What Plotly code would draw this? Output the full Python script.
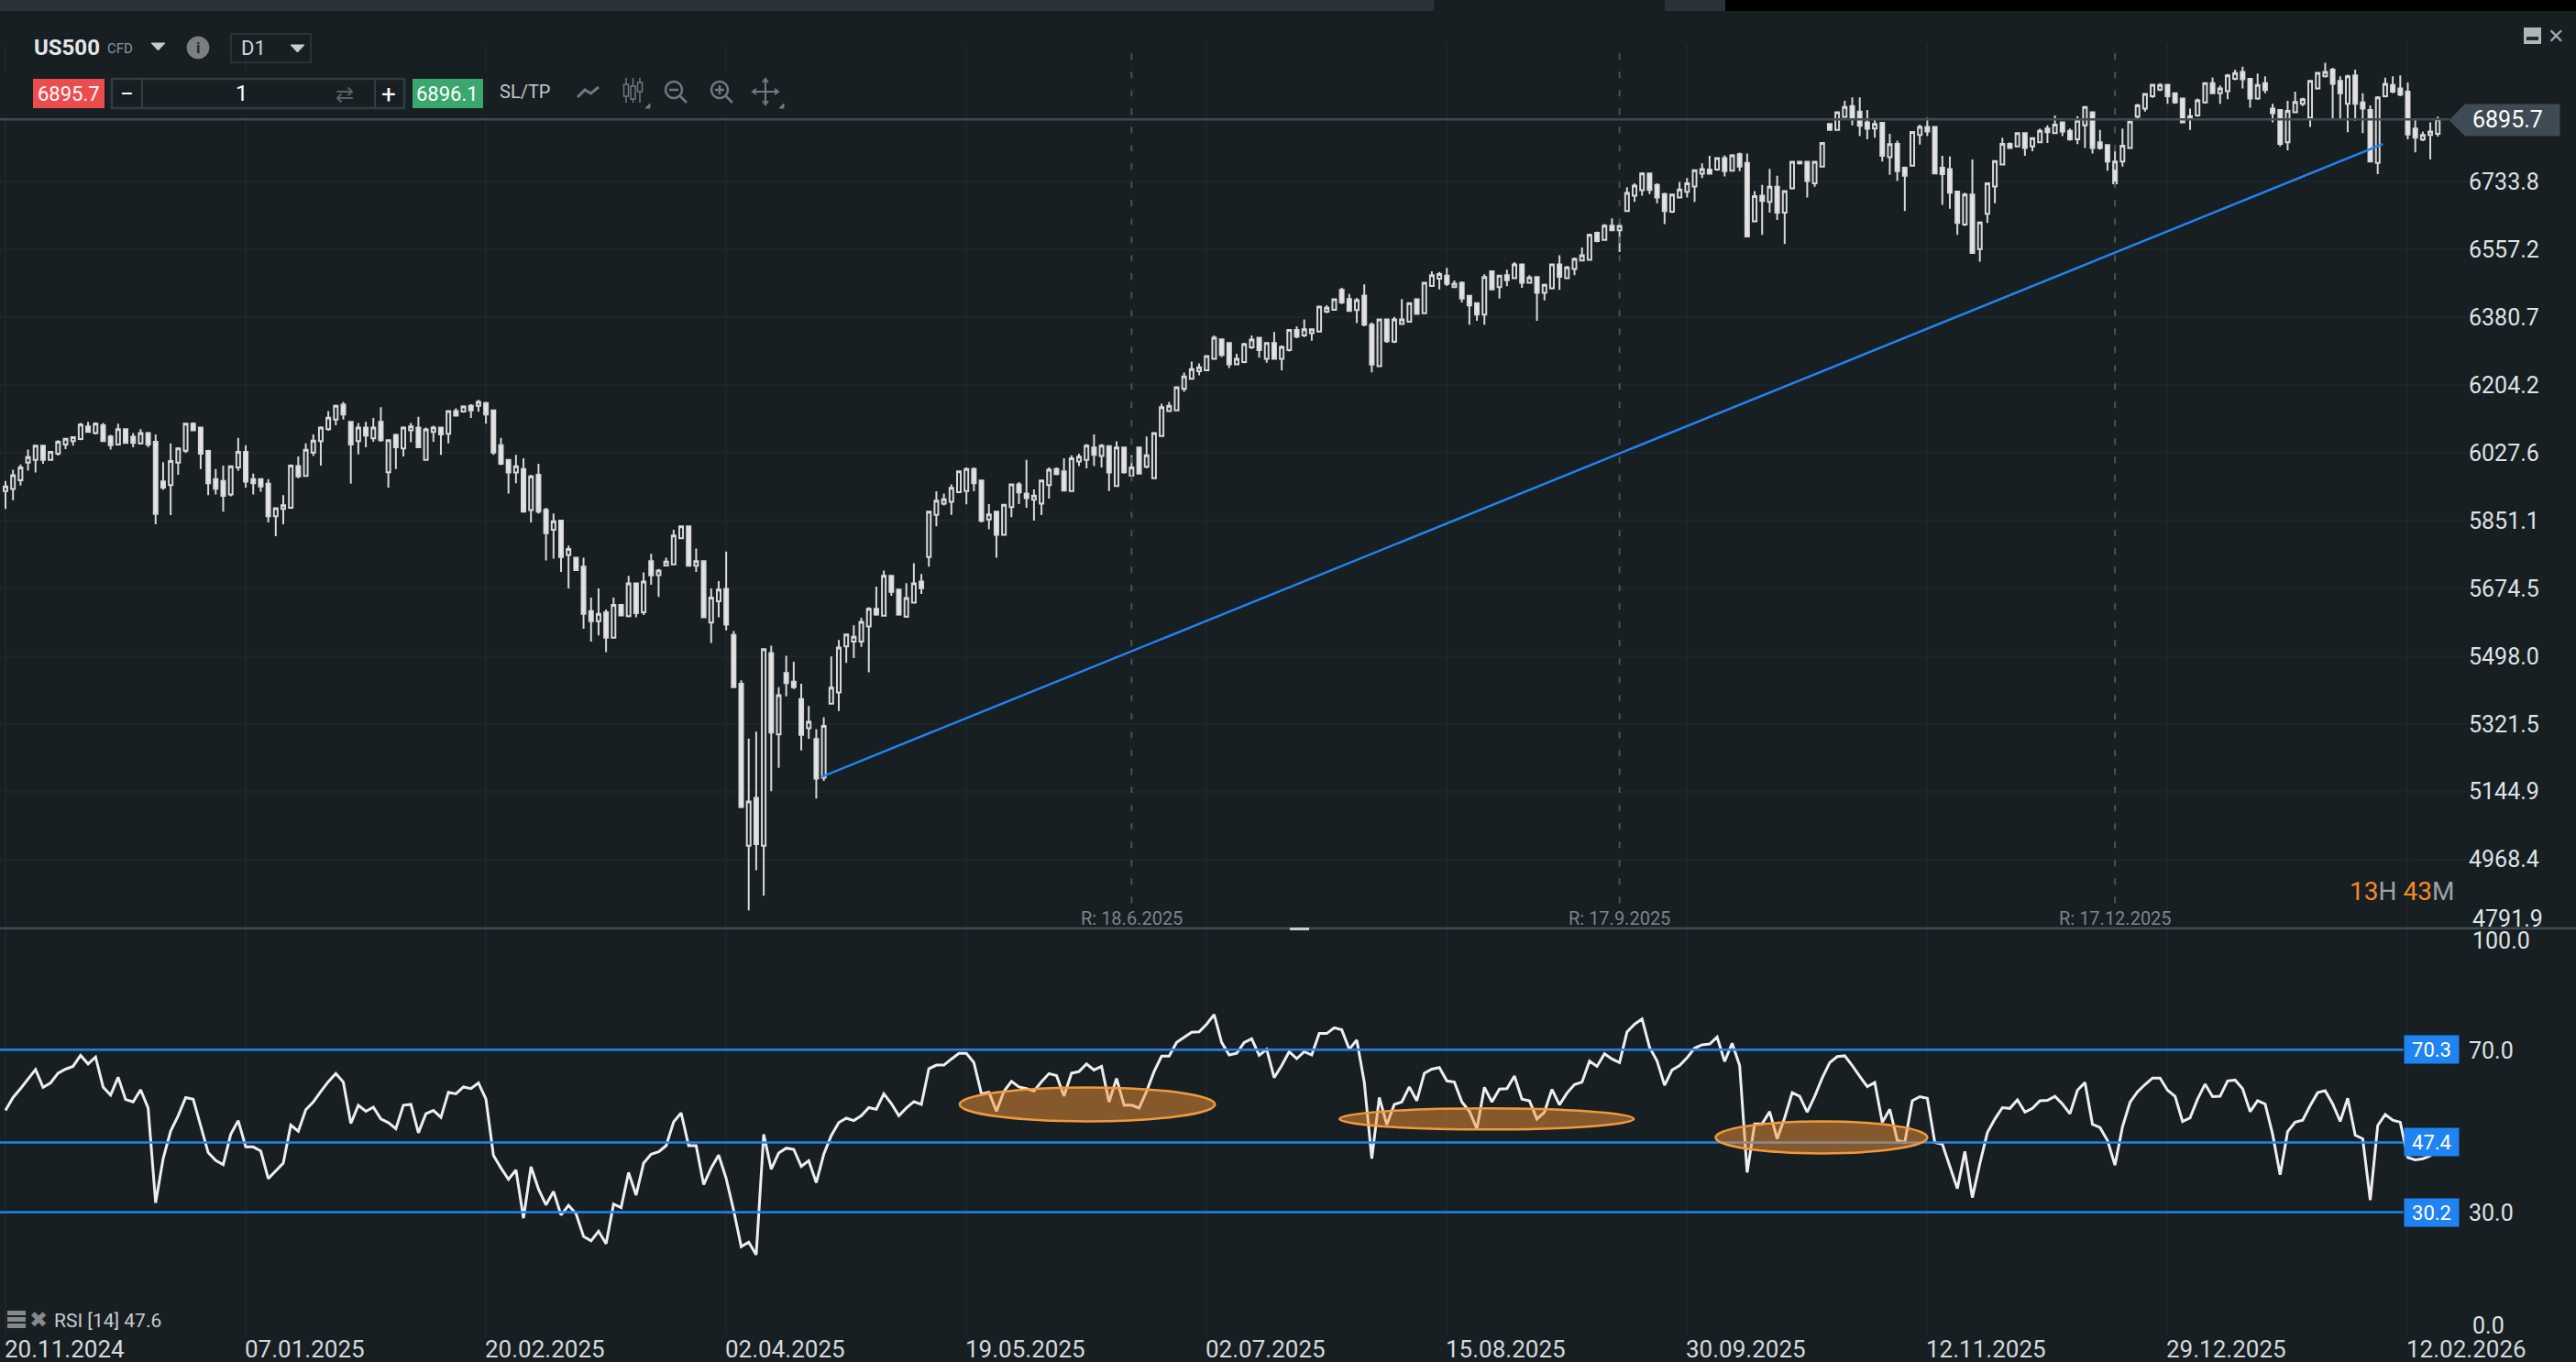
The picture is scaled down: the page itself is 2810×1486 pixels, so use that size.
import plotly.graph_objects as go
from plotly.subplots import make_subplots

WIDTH = 2810
HEIGHT = 1486

BG = "#171f23"
GRID = "#1e252a"
SEP = "#3f4b54"
TEXT = "#dfe3e5"
BLUE = "#2183f0"
ICON = "#6e7a82"

opens = [
    5928, 5933, 5956, 6002, 6009, 6046, 6009, 6025, 6049, 6058,
    6063, 6096, 6079, 6099, 6070, 6049, 6089, 6069, 6052, 6079,
    6056, 5953, 5943, 6002, 6033, 6103, 6093, 6032, 5959, 5954,
    5919, 5989, 6030, 5959, 5959, 5947, 5862, 5881, 5884, 5993,
    5967, 6028, 6058, 6089, 6114, 6153, 6108, 6058, 6093, 6065,
    6108, 5977, 6074, 6039, 6086, 6093, 6009, 6082, 6093, 6077,
    6136, 6135, 6150, 6150, 6157, 6138, 6047, 6009, 5976, 5985,
    5878, 5970, 5879, 5827, 5851, 5761, 5754, 5731, 5615, 5589,
    5612, 5546, 5631, 5602, 5687, 5612, 5745, 5709, 5734, 5737,
    5805, 5836, 5733, 5745, 5585, 5641, 5673, 5553, 5426, 5004,
    5129, 5004, 5506, 5294, 5454, 5431, 5386, 5310, 5282, 5181,
    5374, 5403, 5523, 5536, 5536, 5575, 5621, 5603, 5707, 5671,
    5601, 5637, 5692, 5756, 5866, 5895, 5900, 5925, 5928, 5985,
    5955, 5854, 5874, 5814, 5886, 5945, 5921, 5905, 5895, 5943,
    5985, 5979, 5928, 6005, 6009, 6041, 6019, 6045, 5941, 6041,
    5968, 6041, 5991, 5961, 6071, 6136, 6138, 6194, 6220, 6240,
    6242, 6272, 6323, 6313, 6258, 6264, 6302, 6327, 6272, 6313,
    6272, 6295, 6347, 6333, 6339, 6343, 6395, 6400, 6452, 6428,
    6399, 6437, 6361, 6253, 6375, 6317, 6363, 6369, 6427, 6391,
    6462, 6481, 6489, 6459, 6470, 6436, 6417, 6387, 6500, 6459,
    6490, 6482, 6518, 6470, 6485, 6444, 6456, 6518, 6482, 6506,
    6528, 6530, 6600, 6582, 6619, 6607, 6657, 6697, 6711, 6755,
    6725, 6701, 6655, 6692, 6707, 6721, 6754, 6765, 6765, 6795,
    6762, 6805, 6782, 6630, 6697, 6681, 6720, 6653, 6716, 6785,
    6785, 6729, 6773, 6884, 6868, 6902, 6930, 6916, 6888, 6872,
    6887, 6797, 6832, 6770, 6775, 6855, 6876, 6876, 6770, 6766,
    6708, 6622, 6700, 6558, 6650, 6721, 6778, 6832, 6825, 6860,
    6825, 6836, 6872, 6860, 6888, 6866, 6844, 6880, 6914, 6836,
    6829, 6786, 6786, 6821, 6903, 6924, 6956, 6973, 6986, 6964,
    6950, 6904, 6906, 6940, 6990, 6964, 6969, 7001, 7019, 7001,
    6950, 6990, 6924, 6920, 6836, 6914, 6936, 6900, 6976, 7008,
    7025, 6996, 6936, 7010, 6940, 6920, 6782, 6956, 6985, 6976,
    6968, 6872, 6843, 6855, 6858,
]
highs = [
    5954, 5983, 5997, 6036, 6046, 6046, 6030, 6060, 6066, 6070,
    6105, 6108, 6107, 6105, 6074, 6103, 6089, 6079, 6089, 6082,
    6075, 6003, 6052, 6042, 6105, 6107, 6093, 6035, 5985, 5994,
    5994, 6066, 6047, 5973, 5961, 5959, 5883, 5917, 5997, 6018,
    6052, 6075, 6096, 6136, 6153, 6160, 6108, 6105, 6108, 6118,
    6146, 6060, 6077, 6096, 6105, 6121, 6093, 6098, 6093, 6138,
    6143, 6151, 6154, 6165, 6160, 6140, 6066, 6011, 6022, 6013,
    5970, 5999, 5884, 5869, 5851, 5786, 5754, 5754, 5650, 5674,
    5619, 5650, 5631, 5707, 5687, 5716, 5764, 5725, 5754, 5827,
    5836, 5836, 5778, 5745, 5674, 5693, 5770, 5563, 5435, 5283,
    5301, 5516, 5525, 5417, 5499, 5483, 5426, 5368, 5308, 5339,
    5497, 5540, 5554, 5578, 5598, 5625, 5679, 5721, 5707, 5673,
    5688, 5740, 5712, 5874, 5927, 5921, 5945, 5979, 5989, 5989,
    5955, 5894, 5874, 5893, 5945, 5951, 6009, 5932, 5955, 5989,
    5989, 6013, 6021, 6025, 6050, 6075, 6050, 6045, 6057, 6041,
    6021, 6041, 6070, 6079, 6155, 6160, 6198, 6236, 6265, 6260,
    6279, 6333, 6323, 6313, 6285, 6314, 6333, 6327, 6313, 6342,
    6307, 6347, 6357, 6375, 6351, 6408, 6412, 6427, 6457, 6441,
    6431, 6466, 6367, 6375, 6375, 6381, 6428, 6419, 6427, 6470,
    6500, 6498, 6509, 6476, 6474, 6436, 6419, 6492, 6500, 6490,
    6504, 6524, 6518, 6490, 6485, 6468, 6518, 6542, 6514, 6536,
    6562, 6598, 6603, 6623, 6638, 6627, 6719, 6729, 6758, 6755,
    6729, 6705, 6700, 6733, 6743, 6765, 6781, 6801, 6797, 6802,
    6805, 6809, 6807, 6709, 6725, 6767, 6749, 6709, 6786, 6786,
    6785, 6786, 6836, 6884, 6914, 6944, 6953, 6953, 6920, 6896,
    6887, 6858, 6840, 6773, 6864, 6882, 6900, 6876, 6801, 6799,
    6708, 6705, 6791, 6630, 6731, 6789, 6848, 6836, 6862, 6860,
    6848, 6872, 6880, 6906, 6888, 6872, 6904, 6930, 6914, 6868,
    6829, 6813, 6872, 6890, 6936, 6964, 6988, 6990, 6988, 6964,
    6952, 6924, 6950, 6992, 7005, 6984, 7014, 7025, 7033, 7001,
    7015, 7008, 6936, 6920, 6944, 6968, 6952, 6997, 7019, 7043,
    7030, 7008, 7012, 7025, 6964, 6932, 6956, 7004, 7008, 7010,
    6992, 6896, 6864, 6888, 6903,
]
lows = [
    5881, 5904, 5942, 5981, 5976, 5999, 6009, 6020, 6037, 6046,
    6060, 6080, 6075, 6056, 6036, 6047, 6052, 6042, 6049, 6042,
    5841, 5931, 5865, 5970, 6027, 6084, 5985, 5917, 5919, 5874,
    5914, 5980, 5937, 5919, 5926, 5846, 5810, 5841, 5881, 5961,
    5965, 6019, 5994, 6085, 6099, 6114, 5947, 6023, 6042, 6056,
    6056, 5937, 5985, 6018, 6055, 6042, 6008, 6056, 6022, 6052,
    6122, 6132, 6118, 6134, 6103, 6022, 5995, 5921, 5948, 5874,
    5846, 5869, 5747, 5752, 5717, 5674, 5722, 5569, 5536, 5552,
    5508, 5546, 5602, 5599, 5599, 5605, 5684, 5652, 5733, 5735,
    5803, 5733, 5717, 5599, 5532, 5599, 5565, 5417, 5102, 4836,
    4940, 4874, 5146, 5207, 5393, 5412, 5252, 5283, 5127, 5173,
    5374, 5355, 5480, 5493, 5522, 5456, 5603, 5603, 5655, 5603,
    5598, 5637, 5660, 5731, 5836, 5890, 5866, 5924, 5893, 5927,
    5846, 5828, 5754, 5812, 5860, 5894, 5884, 5851, 5865, 5908,
    5969, 5927, 5927, 5993, 5987, 5993, 5989, 5928, 5941, 5973,
    5965, 5972, 5987, 5961, 6071, 6134, 6136, 6186, 6218, 6229,
    6240, 6272, 6277, 6248, 6256, 6261, 6298, 6275, 6262, 6270,
    6242, 6291, 6326, 6329, 6319, 6343, 6391, 6399, 6415, 6395,
    6365, 6357, 6237, 6252, 6314, 6313, 6361, 6367, 6387, 6389,
    6461, 6453, 6462, 6457, 6419, 6361, 6371, 6361, 6451, 6429,
    6461, 6481, 6457, 6468, 6371, 6424, 6453, 6452, 6481, 6490,
    6526, 6529, 6576, 6580, 6606, 6550, 6657, 6681, 6697, 6701,
    6677, 6623, 6652, 6691, 6692, 6681, 6743, 6753, 6762, 6747,
    6761, 6761, 6591, 6628, 6595, 6653, 6634, 6571, 6713, 6778,
    6692, 6720, 6771, 6866, 6867, 6900, 6880, 6852, 6844, 6848,
    6786, 6751, 6735, 6657, 6773, 6830, 6852, 6753, 6673, 6663,
    6595, 6618, 6548, 6525, 6626, 6677, 6777, 6819, 6823, 6801,
    6813, 6835, 6834, 6859, 6852, 6840, 6831, 6821, 6807, 6817,
    6762, 6723, 6773, 6819, 6898, 6916, 6952, 6969, 6936, 6936,
    6886, 6868, 6903, 6937, 6962, 6936, 6948, 6998, 6976, 6926,
    6947, 6964, 6888, 6825, 6815, 6912, 6930, 6876, 6973, 7005,
    6896, 6896, 6862, 6892, 6860, 6785, 6753, 6953, 6964, 6956,
    6844, 6810, 6839, 6791, 6851,
]
closes = [
    5940, 5969, 5989, 6016, 6046, 6009, 6030, 6056, 6064, 6068,
    6101, 6082, 6103, 6058, 6047, 6089, 6053, 6053, 6079, 6049,
    5868, 5937, 6006, 6039, 6103, 6086, 6025, 5948, 5934, 5915,
    5992, 6030, 5952, 5948, 5940, 5862, 5883, 5891, 5994, 5966,
    6035, 6059, 6093, 6119, 6150, 6127, 6049, 6093, 6072, 6093,
    6060, 6060, 6042, 6093, 6096, 6042, 6088, 6093, 6075, 6136,
    6124, 6148, 6138, 6160, 6127, 6028, 5999, 5976, 5992, 5874,
    5966, 5874, 5818, 5849, 5756, 5777, 5722, 5608, 5589, 5608,
    5546, 5631, 5604, 5687, 5610, 5692, 5708, 5721, 5744, 5812,
    5836, 5733, 5745, 5599, 5650, 5671, 5580, 5417, 5105, 5119,
    5008, 5516, 5299, 5396, 5428, 5417, 5293, 5327, 5179, 5316,
    5416, 5520, 5554, 5548, 5587, 5621, 5606, 5707, 5665, 5606,
    5649, 5687, 5675, 5874, 5903, 5906, 5936, 5979, 5985, 5948,
    5850, 5867, 5814, 5892, 5945, 5924, 5909, 5916, 5955, 5983,
    5972, 5929, 6013, 6017, 6046, 6022, 6046, 5976, 6041, 5977,
    5989, 5973, 6021, 6079, 6146, 6150, 6198, 6226, 6245, 6250,
    6279, 6327, 6282, 6258, 6272, 6310, 6322, 6295, 6313, 6272,
    6303, 6347, 6330, 6349, 6349, 6408, 6405, 6427, 6419, 6397,
    6425, 6361, 6257, 6375, 6318, 6375, 6375, 6417, 6389, 6470,
    6490, 6493, 6467, 6468, 6429, 6411, 6387, 6485, 6453, 6489,
    6477, 6518, 6470, 6484, 6444, 6465, 6518, 6486, 6510, 6532,
    6542, 6595, 6579, 6619, 6607, 6618, 6704, 6723, 6755, 6712,
    6692, 6657, 6700, 6713, 6729, 6763, 6766, 6754, 6795, 6761,
    6802, 6773, 6591, 6696, 6683, 6720, 6653, 6709, 6785, 6781,
    6735, 6785, 6834, 6868, 6914, 6928, 6896, 6879, 6871, 6884,
    6801, 6831, 6761, 6749, 6863, 6876, 6864, 6755, 6753, 6705,
    6626, 6700, 6548, 6627, 6729, 6787, 6832, 6821, 6860, 6821,
    6847, 6866, 6862, 6882, 6864, 6844, 6892, 6928, 6821, 6821,
    6786, 6729, 6827, 6890, 6932, 6962, 6986, 6985, 6956, 6940,
    6888, 6896, 6945, 6990, 6964, 6976, 7010, 7016, 7000, 6950,
    6985, 6972, 6912, 6832, 6918, 6941, 6948, 6996, 7017, 7019,
    6988, 6964, 7008, 6936, 6924, 6786, 6953, 6988, 6968, 6960,
    6856, 6848, 6855, 6864, 6895.7,
]
rsi = [
    55.3, 58.5, 60.7, 63.0, 65.4, 61.0, 62.1, 64.5, 65.5, 66.2,
    68.9, 66.8, 68.5, 61.1, 59.1, 63.5, 58.0, 57.4, 60.4, 55.9,
    32.5, 43.4, 50.2, 54.0, 58.5, 58.1, 51.3, 44.9, 43.0, 41.9,
    49.4, 52.8, 46.3, 46.3, 45.3, 38.5, 40.4, 42.3, 51.7, 50.2,
    55.5, 57.4, 60.0, 62.4, 64.4, 62.3, 52.1, 56.6, 55.1, 56.1,
    53.2, 52.3, 50.8, 56.6, 56.8, 49.8, 54.5, 55.3, 53.6, 59.8,
    59.4, 61.1, 60.7, 62.1, 58.1, 44.2, 41.1, 38.3, 40.6, 28.7,
    41.4, 35.9, 32.0, 35.3, 29.5, 31.9, 29.8, 24.2, 23.1, 25.5,
    22.4, 32.2, 31.3, 40.0, 34.4, 42.3, 44.5, 45.1, 46.6, 52.5,
    54.7, 46.6, 46.6, 37.0, 41.1, 44.3, 38.5, 30.6, 21.7, 22.8,
    19.7, 49.4, 40.8, 44.8, 46.0, 45.7, 41.5, 42.9, 37.5, 44.5,
    49.1, 52.3, 53.4, 52.8, 54.0, 56.0, 55.6, 59.4, 57.0, 54.0,
    55.9, 57.5, 56.8, 65.6, 66.5, 66.5, 68.0, 69.4, 69.4, 67.1,
    59.4, 59.8, 55.1, 60.0, 62.5, 61.1, 60.7, 60.1, 62.4, 64.4,
    63.9, 58.9, 64.5, 64.9, 66.8, 65.3, 66.2, 57.4, 63.2, 56.6,
    56.6, 55.9, 60.0, 64.9, 68.7, 68.7, 72.1, 73.4, 74.6, 74.7,
    76.6, 79.0, 72.1, 69.0, 69.4, 72.1, 73.0, 68.9, 70.4, 63.4,
    66.4, 69.8, 68.1, 69.8, 69.0, 74.3, 74.3, 75.7, 75.2, 70.4,
    72.7, 62.3, 43.4, 58.5, 51.8, 56.8, 57.4, 61.1, 57.7, 64.5,
    65.5, 65.9, 62.6, 62.3, 57.4, 55.1, 50.8, 61.0, 57.4, 60.6,
    60.7, 63.8, 58.1, 57.7, 53.2, 54.9, 60.5, 56.7, 59.6, 61.7,
    62.3, 67.5, 66.2, 69.3, 68.0, 67.1, 74.7, 76.6, 77.9, 70.9,
    67.5, 61.5, 65.3, 66.4, 68.3, 70.7, 71.5, 71.7, 73.4, 67.4,
    71.9, 66.4, 40.0, 52.0, 52.0, 55.0, 48.3, 53.5, 59.7, 58.8,
    54.9, 58.8, 63.3, 67.1, 68.6, 68.8, 66.4, 63.7, 61.2, 62.2,
    52.4, 55.6, 47.9, 47.4, 57.7, 58.7, 58.3, 47.4, 47.0, 41.5,
    36.0, 45.2, 33.8, 42.2, 49.8, 53.2, 56.0, 55.8, 57.9, 54.9,
    55.8, 57.7, 57.8, 58.8, 56.9, 54.5, 60.3, 62.2, 51.9, 51.1,
    47.9, 41.8, 51.3, 57.3, 59.9, 61.7, 63.3, 63.3, 60.3, 58.8,
    52.6, 53.5, 58.1, 61.8, 58.7, 58.8, 62.6, 62.8, 60.7, 55.0,
    57.7, 56.9, 49.4, 39.4, 50.1, 52.4, 52.9, 56.5, 59.7, 60.2,
    56.9, 52.6, 58.3, 49.2, 48.3, 33.2, 51.6, 54.3, 52.9, 52.4,
    43.7, 43.1, 43.4, 44.1, 47.6,
]

date_ticks = [0, 32, 64, 96, 128, 160, 192, 224, 256, 288, 320]
date_labels = [
    "20.11.2024", "07.01.2025", "20.02.2025", "02.04.2025", "19.05.2025", "02.07.2025",
    "15.08.2025", "30.09.2025", "12.11.2025", "29.12.2025", "12.02.2026",
]
price_ticks = [6733.8, 6557.2, 6380.7, 6204.2, 6027.6, 5851.1, 5674.5, 5498.0, 5321.5, 5144.9, 4968.4]
rsi_levels = [70.3, 47.4, 30.2]
rsi_ticks = [70, 30]
fed_bars = [150, 215, 281]
fed_labels = ["R: 18.6.2025", "R: 17.9.2025", "R: 17.12.2025"]
bid = 6895.7
ask = 6896.1
# bar, price at both ends of the trend line
trend_x = [108.7, 316.7]
trend_y = [5183.4, 6831.7]
# bar from, bar to, rsi low, rsi high
rsi_zones = [(127.1, 161.1, 52.6, 61.0), (177.7, 216.9, 50.6, 55.8), (227.8, 256.0, 44.7, 52.6)]


def px(x, y):
    """Pixel position on the page to paper coordinates."""
    return x / WIDTH, 1 - y / HEIGHT


def path(points, close=False):
    parts = []
    for n, (x, y) in enumerate(points):
        u, v = px(x, y)
        parts.append(f"{'M' if n == 0 else 'L'}{u:.5f},{v:.5f}")
    return " ".join(parts) + (" Z" if close else "")


def box(fig, x0, y0, x1, y1, fill=None, line=None, width=0):
    u0, v0 = px(x0, y0)
    u1, v1 = px(x1, y1)
    fig.add_shape(type="rect", xref="paper", yref="paper", x0=u0, y0=v0, x1=u1, y1=v1,
                  fillcolor=fill or "rgba(0,0,0,0)", line=dict(color=line or "rgba(0,0,0,0)", width=width))


def stroke(fig, points, color=ICON, width=2, fill=None, close=False):
    fig.add_shape(type="path", xref="paper", yref="paper", path=path(points, close),
                  fillcolor=fill or "rgba(0,0,0,0)", line=dict(color=color, width=width))


def circle(fig, cx, cy, r, color=ICON, width=2.5, fill=None):
    u0, v0 = px(cx - r, cy - r)
    u1, v1 = px(cx + r, cy + r)
    fig.add_shape(type="circle", xref="paper", yref="paper", x0=u0, y0=v0, x1=u1, y1=v1,
                  fillcolor=fill or "rgba(0,0,0,0)", line=dict(color=color, width=width))


def label(fig, x, y, text, size=22, color=TEXT, anchor="center", family="Roboto"):
    u, v = px(x, y)
    fig.add_annotation(xref="paper", yref="paper", x=u, y=v, text=text, showarrow=False,
                       xanchor=anchor, yanchor="middle", borderpad=0,
                       font=dict(family=family, size=size, color=color))


def draw_toolbar(fig):
    # strip of the window above the chart
    box(fig, 0, 0, 1564, 12, fill="#2a323b")
    box(fig, 1816, 0, 1882, 12, fill="#2a323b")
    box(fig, 1882, 0, WIDTH, 12, fill="#000000")
    box(fig, 0, 78, 870, 126, fill=BG)

    label(fig, 36, 52, "<b>US500</b>", size=24, color="#e4e6e8", anchor="left")
    label(fig, 116, 53, "CFD", size=15, color="#8a979f", anchor="left")
    stroke(fig, [(165, 47), (180, 47), (172.5, 55)], color="#c8cbcd", width=1, fill="#c8cbcd", close=True)
    circle(fig, 216, 52, 12, color="#7c7f81", fill="#7c7f81", width=1)
    label(fig, 216, 52, "<b>i</b>", size=17, color="#22282c")
    box(fig, 252, 37, 339, 68, line="#2a3238", width=2)
    label(fig, 262, 53, "D1", size=22, color="#d0d4d6", anchor="left")
    stroke(fig, [(317, 49), (332, 49), (324.5, 57)], color="#c8cbcd", width=1, fill="#c8cbcd", close=True)

    box(fig, 36, 86, 114, 118, fill="#ec4c4c")
    label(fig, 75, 102, f"{bid}", size=22, color="#ffffff")
    box(fig, 122, 86, 441, 118, line="#333c43", width=2.5)
    stroke(fig, [(155, 86), (155, 118)], color="#333c43", width=2)
    stroke(fig, [(409, 86), (409, 118)], color="#333c43", width=2)
    label(fig, 138, 102, "−", size=26, color="#ffffff")
    label(fig, 264, 102, "1", size=24, color="#ffffff")
    label(fig, 376, 103, "⇄", size=24, color="#5a6065", family="DejaVu Sans")
    label(fig, 424, 102, "+", size=28, color="#ffffff")
    box(fig, 450, 86, 527, 118, fill="#3aa76d")
    label(fig, 488, 102, f"{ask}", size=22, color="#ffffff")
    label(fig, 572, 100, "SL/TP", size=20, color="#c5c9cc")

    stroke(fig, [(630, 106), (638, 98), (644.5, 102), (653, 95)], width=3)
    for cx, top, bottom in [(683, 92, 105), (690.5, 94, 108), (698, 90, 100)]:
        stroke(fig, [(cx, 85), (cx, 112)], width=1.5)
        box(fig, cx - 2.5, top, cx + 2.5, bottom, fill=BG, line=ICON, width=1.5)
    stroke(fig, [(704, 118), (709, 118), (709, 113)], width=1, fill=ICON, close=True)

    circle(fig, 735, 98, 9)
    stroke(fig, [(741, 104), (749, 112)], width=2.5)
    stroke(fig, [(730, 98), (740, 98)], width=2.5)
    circle(fig, 785, 98, 9)
    stroke(fig, [(791, 104), (799, 112)], width=2.5)
    stroke(fig, [(780, 98), (790, 98)], width=2.5)
    stroke(fig, [(785, 93), (785, 103)], width=2.5)

    stroke(fig, [(835, 87), (835, 113)], width=2)
    stroke(fig, [(822, 100), (848, 100)], width=2)
    stroke(fig, [(832, 90), (835, 86), (838, 90)], width=2)
    stroke(fig, [(832, 110), (835, 114), (838, 110)], width=2)
    stroke(fig, [(825, 97), (821, 100), (825, 103)], width=2)
    stroke(fig, [(845, 97), (849, 100), (845, 103)], width=2)
    stroke(fig, [(850, 118), (855, 118), (855, 113)], width=1, fill=ICON, close=True)

    # window buttons
    box(fig, 2753, 30, 2772, 48, fill="#b0b5b8")
    box(fig, 2756, 40, 2769, 44, fill="#22282c")
    label(fig, 2788, 39, "✕", size=22, color="#a5aaad", family="DejaVu Sans")


def draw_rsi_legend(fig):
    for top in (1430, 1437, 1444):
        box(fig, 8, top, 28, top + 5, fill="#85898c")
    label(fig, 42, 1440, "✖", size=24, color="#85898c", family="DejaVu Sans")
    label(fig, 58, 1441, f"RSI [14] {rsi[-1]}", size=21, color="#c8cccf", anchor="left")


bars = list(range(len(closes)))

fig = make_subplots(rows=2, cols=1, shared_xaxes=True)

fig.add_trace(
    go.Candlestick(
        x=bars, open=opens, high=highs, low=lows, close=closes, name="US500",
        increasing=dict(line=dict(color="#d8d8d8", width=2), fillcolor=BG),
        decreasing=dict(line=dict(color="#d8d8d8", width=2), fillcolor="#e6e6e6"),
        showlegend=False,
    ),
    row=1, col=1,
)
fig.add_trace(
    go.Scatter(x=bars, y=rsi, mode="lines", name="RSI [14]", line=dict(color="#eeeeee", width=3), showlegend=False),
    row=2, col=1,
)

# price line at the current bid
fig.add_shape(type="line", xref="x", yref="y", x0=-0.733, x1=325.5, y0=bid, y1=bid, line=dict(color=SEP, width=2.5))

for bar, text in zip(fed_bars, fed_labels):
    fig.add_shape(type="line", xref="x", yref="y", x0=bar, x1=bar, y0=4855, y1=7092,
                  line=dict(color="#4a5258", width=2, dash="7px,13px"))
    fig.add_annotation(xref="x", yref="y", x=bar, y=4816, text=text, showarrow=False,
                       font=dict(family="Roboto", size=20, color="#7c858b"))

fig.add_shape(type="line", xref="x", yref="y", x0=trend_x[0], x1=trend_x[1], y0=trend_y[0], y1=trend_y[1],
              line=dict(color=BLUE, width=2.5))

for level in rsi_levels:
    fig.add_shape(type="line", xref="x2", yref="y2", x0=-0.733, x1=319.4, y0=level, y1=level,
                  line=dict(color=BLUE, width=2.5))
    fig.add_annotation(xref="x2", yref="y2", x=323.2, y=level, text=f"{level}", showarrow=False,
                       width=59, height=30, bgcolor="#1f83f2", borderpad=0,
                       font=dict(family="Roboto", size=22, color="#ffffff"))

for x0, x1, y0, y1 in rsi_zones:
    fig.add_shape(type="circle", xref="x2", yref="y2", x0=x0, x1=x1, y0=y0, y1=y1,
                  fillcolor="rgba(246,148,54,0.5)", line=dict(color="#f09a3c", width=2.5))

# panel separator and the small drag handle on it
stroke(fig, [(0, 1012.7), (WIDTH, 1012.7)], color=SEP, width=2.5)
box(fig, 1407, 1012, 1428, 1015, fill="#c8ccd0")

# tag with the current price
stroke(fig, [(2672, 131), (2689, 114), (2792, 114), (2792, 148), (2689, 148)], color="#3e4b55", width=1,
       fill="#3e4b55", close=True)
label(fig, 2696, 131, f"{bid}", size=25, color="#ffffff", anchor="left")

# axis labels that are pushed inside the panels at their edges
label(fig, 2696, 1002, "4791.9", size=25, anchor="left")
label(fig, 2696, 1026, "100.0", size=25, anchor="left")
label(fig, 2696, 1446, "0.0", size=25, anchor="left")

label(fig, 2678, 972, '<span style="color:#f58a24">13</span>H <span style="color:#f58a24">43</span>M',
      size=28, color="#9aa3a8", anchor="right")

# date labels start at their tick instead of being centred on it
for tick, text in zip(date_ticks, date_labels):
    fig.add_annotation(xref="x2", yref="paper", x=tick, y=1 - 1472 / HEIGHT, text=text, showarrow=False,
                       xanchor="left", yanchor="middle", xshift=-2, borderpad=0,
                       font=dict(family="Roboto", size=26, color="#d5d9dc"))

draw_toolbar(fig)
draw_rsi_legend(fig)

fig.update_layout(
    width=WIDTH,
    height=HEIGHT,
    margin=dict(l=0, r=0, t=0, b=0),
    paper_bgcolor=BG,
    plot_bgcolor=BG,
    showlegend=False,
    font=dict(family="Roboto", size=25, color=TEXT),
    xaxis=dict(
        domain=[0, 2692 / WIDTH], range=[-0.733, 328.0], rangeslider_visible=False, automargin=False,
        tickmode="array", tickvals=date_ticks, showticklabels=False,
        showgrid=True, gridcolor=GRID, gridwidth=2, zeroline=False, showline=False,
    ),
    xaxis2=dict(
        domain=[0, 2692 / WIDTH], range=[-0.733, 328.0], automargin=False,
        tickmode="array", tickvals=date_ticks, showticklabels=False, ticklen=0,
        showgrid=True, gridcolor=GRID, gridwidth=2, zeroline=False, showline=False,
    ),
    yaxis=dict(
        domain=[1 - 1012 / HEIGHT, 1 - 48 / HEIGHT], range=[4791, 7092], side="right", automargin=False,
        tickmode="array", tickvals=price_ticks, ticktext=[f"{p:.1f}" for p in price_ticks], ticklen=0,
        showgrid=True, gridcolor=GRID, gridwidth=2, zeroline=False, showline=False,
        tickfont=dict(family="Roboto", size=25, color=TEXT),
    ),
    yaxis2=dict(
        domain=[1 - 1456 / HEIGHT, 1 - 1014 / HEIGHT], range=[0, 100], side="right", automargin=False,
        tickmode="array", tickvals=[0] + rsi_ticks + [100], ticktext=[""] + [f"{v:.1f}" for v in rsi_ticks] + [""],
        ticklen=0, showgrid=True, gridcolor=GRID, gridwidth=2, zeroline=False, showline=False,
        tickfont=dict(family="Roboto", size=25, color=TEXT),
    ),
)

fig.write_html("out.html", config={"displayModeBar": False},
               post_script=f"document.body.style.margin='0';document.body.style.background='{BG}';")
